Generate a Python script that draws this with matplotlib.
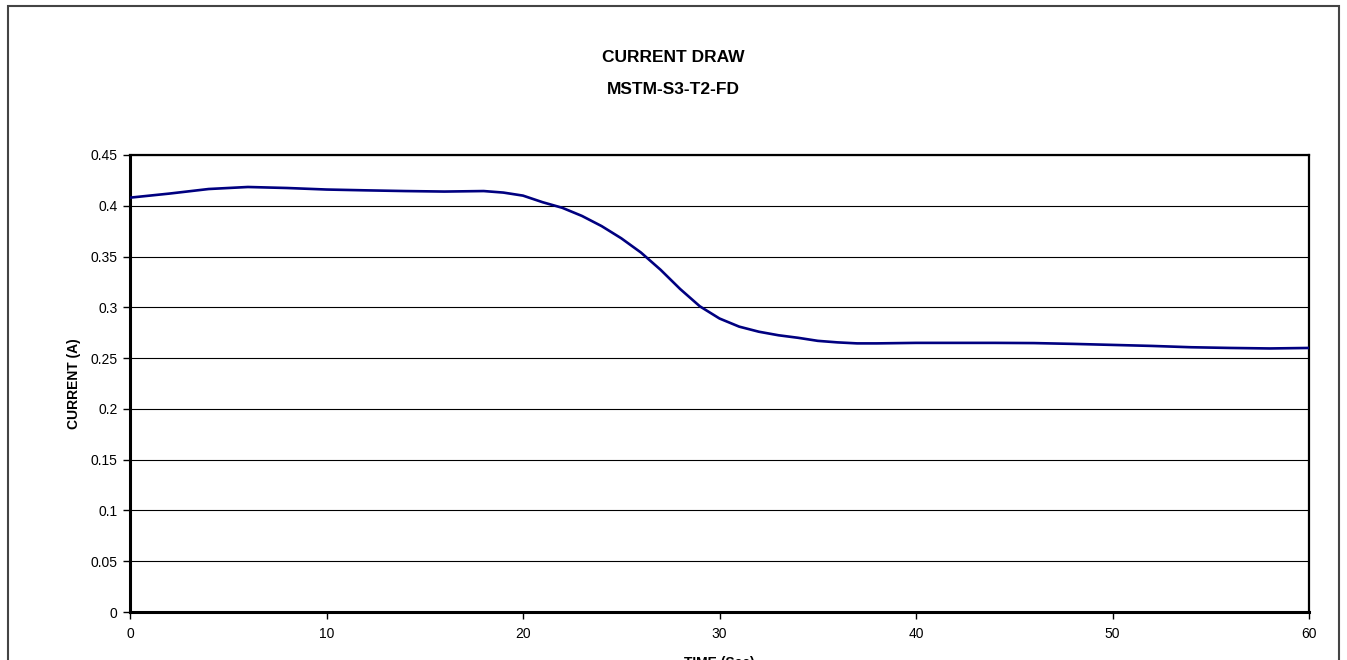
import matplotlib
matplotlib.use("Agg")
import matplotlib.pyplot as plt
from matplotlib.patches import Rectangle

# --- data -----------------------------------------------------------------
time_s = [0, 2, 4, 6, 8, 10, 12, 14, 16, 18, 19, 20, 21, 22, 23, 24, 25, 26,
          27, 28, 29, 30, 31, 32, 33, 34, 35, 36, 37, 38, 40, 42, 44, 46, 48,
          50, 52, 54, 56, 58, 60]
current_a = [0.408, 0.412, 0.4165, 0.4185, 0.4175, 0.416, 0.4152, 0.4145,
             0.414, 0.4145, 0.413, 0.410, 0.4035, 0.398, 0.390, 0.380, 0.368,
             0.354, 0.337, 0.318, 0.301, 0.289, 0.281, 0.276, 0.2725, 0.270,
             0.267, 0.2655, 0.2645, 0.2645, 0.265, 0.265, 0.265, 0.2648,
             0.264, 0.263, 0.262, 0.2607, 0.260, 0.2595, 0.260]
x_ticks = [0, 10, 20, 30, 40, 50, 60]
y_ticks = [0, 0.05, 0.1, 0.15, 0.2, 0.25, 0.3, 0.35, 0.4, 0.45]
y_tick_labels = ["0", "0.05", "0.1", "0.15", "0.2", "0.25", "0.3", "0.35",
                 "0.4", "0.45"]

plt.rcParams["font.family"] = ["Liberation Sans", "DejaVu Sans"]

fig = plt.figure(figsize=(13.47, 6.6), dpi=100)
fig.set_facecolor("white")

# outer chart-area border (bottom edge is cut off in the reference)
fig.patches.append(Rectangle((8 / 1347, -0.05), 1331 / 1347, 1.05 - 6 / 660,
                             transform=fig.transFigure, fill=False,
                             edgecolor="#444444", linewidth=1.5))

ax = fig.add_axes([130 / 1347, 1 - 612 / 660, 1179 / 1347, 457 / 660])
ax.plot(time_s, current_a, color="#000080", linewidth=1.9, zorder=3)

ax.set_xlim(0, 60)
ax.set_ylim(0, 0.45)
ax.set_xticks(x_ticks)
ax.set_yticks(y_ticks)
ax.set_yticklabels(y_tick_labels)
ax.tick_params(axis="both", direction="out", length=5, width=1,
               labelsize=10, colors="black", pad=4)
ax.tick_params(axis="x", pad=6)
ax.grid(True, axis="y", color="black", linewidth=0.8)
ax.set_axisbelow(True)
for side in ["left", "bottom"]:
    ax.spines[side].set_linewidth(2.2)
for side in ["top", "right"]:
    ax.spines[side].set_linewidth(1.6)

ax.set_ylabel("CURRENT (A)", fontsize=10, fontweight="bold", labelpad=7)
fig.text(0.5, 1 - 57 / 660, "CURRENT DRAW", ha="center", va="center",
         fontsize=12.5, fontweight="bold")
fig.text(0.5, 1 - 90 / 660, "MSTM-S3-T2-FD", ha="center", va="center",
         fontsize=12.5, fontweight="bold")
fig.text(719.5 / 1347, 1 - 663 / 660, "TIME (Sec)", ha="center",
         va="center", fontsize=10, fontweight="bold")

fig.savefig("out.png", dpi=100)
plt.close(fig)
